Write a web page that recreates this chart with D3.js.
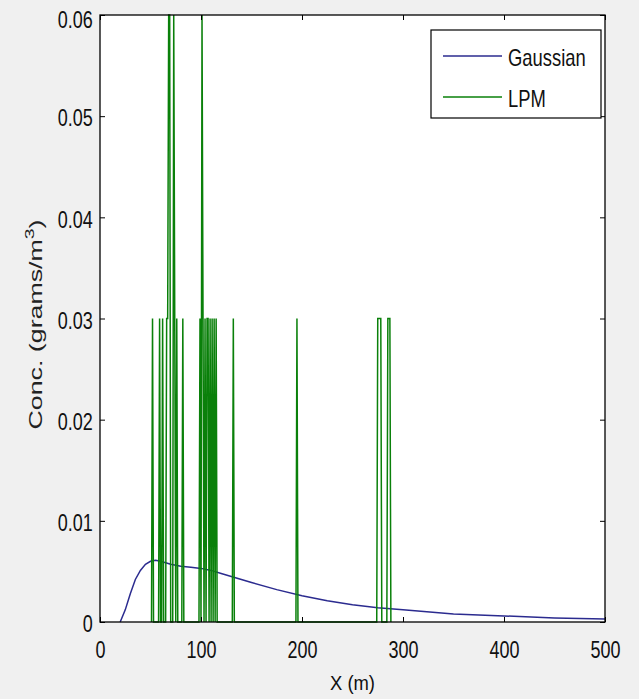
<!DOCTYPE html>
<html>
<head>
<meta charset="utf-8">
<script src="https://cdn.jsdelivr.net/npm/d3@7"></script>
<style>
  body { margin: 0; background: #f0f0f0; }
  svg { display: block; }
</style>
</head>
<body>
<div id="chart"></div>
<script>
// axis ticks
const xTicks = [0, 100, 200, 300, 400, 500]
const yTicks = [0, 0.01, 0.02, 0.03, 0.04, 0.05, 0.06]
const yTickLabels = ["0", "0.01", "0.02", "0.03", "0.04", "0.05", "0.06"]

// Gaussian plume curve
const gaussX = [20, 25, 30, 35, 40, 45, 50, 55, 60, 70, 80, 90, 100, 110, 120, 130, 150, 175, 200, 225, 250, 275, 300, 350, 400, 450, 500]
const gaussY = [0, 0.0012, 0.0028, 0.0042, 0.0051, 0.0057, 0.006, 0.0061, 0.006, 0.0057, 0.0055, 0.0054, 0.0053, 0.0051, 0.0048, 0.0045, 0.0039, 0.0032, 0.0026, 0.0021, 0.0017, 0.0014, 0.0012, 0.0008, 0.0006, 0.0004, 0.0003]

// LPM particle concentrations, vertices of the plotted line
const lpmX = [51, 52, 53, 58, 59, 60, 61, 62, 63, 65, 66, 67, 68, 69, 70, 72, 73, 74, 75, 76, 77, 81, 82, 83,
  98, 99, 100, 101, 102, 103, 104, 105, 106, 107, 108, 109, 110, 111, 112, 113, 114, 115, 116,
  131, 132, 133, 194, 195, 196, 274, 275, 278, 279, 284, 285, 287, 288]
const lpmY = [0, 0.03, 0, 0, 0.03, 0, 0, 0.03, 0, 0, 0.03, 0.03, 0.06, 0.06, 0, 0, 0.06, 0.03, 0, 0.03, 0, 0, 0.03, 0,
  0, 0.03, 0, 0.06, 0.03, 0, 0.03, 0, 0.03, 0.03, 0, 0.03, 0, 0.03, 0, 0.03, 0, 0.03, 0,
  0, 0.03, 0, 0, 0.03, 0, 0, 0.03, 0.03, 0, 0, 0.03, 0.03, 0]

const seriesNames = ["Gaussian", "LPM"]
const seriesColors = ["#2b2b8f", "#0a800a"]

const width = 639
const height = 699
const font = "'Liberation Sans', Arial, sans-serif"

const svg = d3.select("#chart").append("svg")
  .attr("width", width).attr("height", height)
  .style("background", "#f0f0f0")

const x = d3.scaleLinear().domain([0, 500]).range([100, 605])
const y = d3.scaleLinear().domain([0, 0.06]).range([622, 15])

// white plot area
svg.append("rect")
  .attr("x", x(0)).attr("y", y(0.06))
  .attr("width", x(500) - x(0)).attr("height", y(0) - y(0.06))
  .attr("fill", "white")

const line = d3.line().x(d => x(d[0])).y(d => y(d[1]))

svg.append("path")
  .datum(d3.zip(gaussX, gaussY))
  .attr("d", line)
  .attr("fill", "none")
  .attr("stroke", seriesColors[0])
  .attr("stroke-width", 1.5)

svg.append("path")
  .datum(d3.zip(lpmX, lpmY))
  .attr("d", line)
  .attr("fill", "none")
  .attr("stroke", seriesColors[1])
  .attr("stroke-width", 1.5)

// axes, ticks pointing inside like matlab
const styleAxis = g => {
  g.select(".domain").remove()
  g.attr("font-family", font).attr("font-size", 24)
  g.selectAll(".tick line").attr("stroke", "#000")
  g.selectAll("text").attr("fill", "#111").attr("transform", "scale(0.75,1)")
}

svg.append("g")
  .attr("transform", `translate(0,${y(0)})`)
  .call(d3.axisBottom(x).tickValues(xTicks).tickSize(-5).tickPadding(19))
  .call(styleAxis)

svg.append("g")
  .attr("transform", `translate(${x(0)},0)`)
  .call(d3.axisLeft(y).tickValues(yTicks).tickFormat((d, i) => yTickLabels[i]).tickSize(-5).tickPadding(9.5))
  .call(styleAxis)
  .call(g => g.selectAll("text").attr("y", d => d === 0.06 ? 5 : 2))

svg.append("g")
  .attr("transform", `translate(0,${y(0.06)})`)
  .call(d3.axisTop(x).tickValues(xTicks).tickSize(-5).tickFormat(""))
  .call(styleAxis)

svg.append("g")
  .attr("transform", `translate(${x(500)},0)`)
  .call(d3.axisRight(y).tickValues(yTicks).tickSize(-5).tickFormat(""))
  .call(styleAxis)

// box
svg.append("rect")
  .attr("x", x(0)).attr("y", y(0.06))
  .attr("width", x(500) - x(0)).attr("height", y(0) - y(0.06))
  .attr("fill", "none").attr("stroke", "#000").attr("stroke-width", 1.3)

// axis labels
svg.append("text")
  .attr("x", (x(0) + x(500)) / 2).attr("y", 690)
  .attr("text-anchor", "middle")
  .attr("font-family", font).attr("font-size", 20).attr("fill", "#111")
  .attr("textLength", 45).attr("lengthAdjust", "spacingAndGlyphs")
  .text("X (m)")

const ylab = svg.append("text")
  .attr("transform", `translate(42,${(y(0) + y(0.06)) / 2 + 6}) rotate(-90)`)
  .attr("text-anchor", "middle")
  .attr("font-family", font).attr("font-size", 18).attr("fill", "#222")
  .attr("textLength", 210).attr("lengthAdjust", "spacingAndGlyphs")
ylab.append("tspan").text("Conc.  (grams/m")
ylab.append("tspan").attr("dy", -8).attr("font-size", 13).text("3")
ylab.append("tspan").attr("dy", 8).text(")")

// legend
const legend = svg.append("g")
legend.append("rect")
  .attr("x", 431).attr("y", 30).attr("width", 170).attr("height", 88)
  .attr("fill", "white").attr("stroke", "#000").attr("stroke-width", 1.2)

const items = legend.selectAll(".item").data(seriesNames).enter().append("g")
  .attr("class", "item")
  .attr("transform", (d, i) => `translate(443,${56 + i * 41})`)
items.append("line")
  .attr("x1", 0).attr("x2", 59)
  .attr("stroke", (d, i) => seriesColors[i]).attr("stroke-width", 1.3)
items.append("text")
  .attr("x", 65 / 0.8).attr("y", 10)
  .attr("transform", "scale(0.8,1)")
  .attr("font-family", font).attr("font-size", 23).attr("fill", "#111")
  .text(d => d)
</script>
</body>
</html>
